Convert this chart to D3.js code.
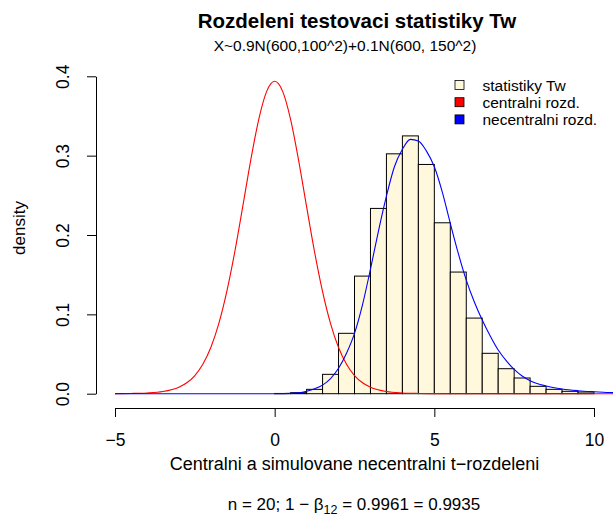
<!DOCTYPE html>
<html><head><meta charset="utf-8">
<script src="https://cdn.jsdelivr.net/npm/d3@7"></script>
<style>
body{margin:0;background:#fff}
svg{display:block}
text{font-family:"Liberation Sans",Arial,Helvetica,sans-serif;fill:#000}
</style>
</head><body>
<svg id="c" width="616" height="517"></svg>
<script>
// ---- data ----
const binEdges = [0,0.5,1,1.5,2,2.5,3,3.5,4,4.5,5,5.5,6,6.5,7,7.5,8,8.5,9,9.5,10];
const binDensity = [0.0003,0.0013,0.0055,0.0244,0.0761,0.1482,0.2335,0.3023,0.3249,0.2889,
                    0.2154,0.1533,0.0953,0.0509,0.0315,0.0198,0.0093,0.0055,0.0030,0.0021];

const centralX = [-5,-4.5,-4,-3.5,-3,-2.75,-2.5,-2.25,-2,-1.75,-1.5,-1.25,-1,-0.75,-0.5,-0.25,0,
                  0.25,0.5,0.75,1,1.25,1.5,1.75,2,2.25,2.5,2.75,3,3.5,4,4.5,5,6,8,10.75];
const centralY = [0.0001,0.0003,0.0009,0.0027,0.0082,0.0138,0.0229,0.0371,0.0583,0.0883,0.1286,0.1786,0.2357,0.2941,0.3455,0.3810,0.3937,
                  0.3810,0.3455,0.2941,0.2357,0.1786,0.1286,0.0883,0.0583,0.0371,0.0229,0.0138,0.0082,0.0027,0.0009,0.0003,0.0001,0,0,0];

const noncentralX = [-5,-2,0,0.25,0.5,0.75,1,1.25,1.5,1.75,2,2.25,2.5,2.75,3,3.25,3.5,3.75,4,4.25,4.5,4.75,
                     5,5.25,5.5,5.75,6,6.25,6.5,6.75,7,7.25,7.5,7.75,8,8.5,9,9.5,10,10.5,10.75];
const noncentralY = [0,0,0,0.0001,0.0004,0.0012,0.0032,0.0062,0.0108,0.019,0.032,0.051,0.076,0.112,0.157,0.205,0.249,0.286,0.308,0.3205,0.3185,0.306,
                     0.286,0.254,0.2146,0.1768,0.1432,0.1159,0.0928,0.0727,0.055,0.0416,0.0307,0.0223,0.0164,0.0097,0.0059,0.0038,0.0025,0.0015,0.0012];

const xTicks = [-5,0,5,10];
const yTicks = [0,0.1,0.2,0.3,0.4];
const legendLabels = ["statistiky Tw","centralni rozd.","necentralni rozd."];
const legendColors = ["#FFF8DC","#FF0000","#0000FF"];

const titleText = "Rozdeleni testovaci statistiky Tw";
const subtitleText = "X~0.9N(600,100^2)+0.1N(600, 150^2)";
const xLabel = "Centralni a simulovane necentralni t\u2212rozdeleni";
const yLabel = "density";

// ---- drawing ----
const svg = d3.select("#c");
const x = d3.scaleLinear().domain([-5,10]).range([115,594]);
const y = d3.scaleLinear().domain([0,0.4]).range([393.7,76.3]);

svg.append("defs").append("clipPath").attr("id","plotclip")
  .append("rect").attr("x",96).attr("y",0).attr("width",517).attr("height",408);

// histogram
const bins = binDensity.map((d,i)=>({x0:binEdges[i],x1:binEdges[i+1],d}));
svg.append("g").selectAll("rect").data(bins).join("rect")
  .attr("x",b=>x(b.x0)).attr("width",b=>x(b.x1)-x(b.x0))
  .attr("y",b=>y(b.d)).attr("height",b=>y(0)-y(b.d))
  .attr("fill","#FFF8DC").attr("stroke","#000").attr("stroke-width",1);

const line = d3.line().x(d=>x(d[0])).y(d=>y(d[1])).curve(d3.curveMonotoneX);
const g = svg.append("g").attr("clip-path","url(#plotclip)");
g.append("path").attr("d",line(centralX.map((v,i)=>[v,centralY[i]])))
  .attr("fill","none").attr("stroke","#FF0000").attr("stroke-width",1.1);
g.append("path").attr("d",line(noncentralX.map((v,i)=>[v,noncentralY[i]])))
  .attr("fill","none").attr("stroke","#0000FF").attr("stroke-width",1.1);

// x axis
const xa = svg.append("g").attr("transform","translate(0,408)")
  .call(d3.axisBottom(x).tickValues(xTicks).tickSize(9).tickSizeOuter(0)
    .tickFormat(d=>d<0?"\u2212"+Math.abs(d):String(d)));
xa.attr("font-family",null).attr("font-size",null);
xa.selectAll("path,line").attr("stroke","#000");
xa.selectAll("text").attr("y",38).attr("dy",null).style("font-size","17.5px");

// y axis
const ya = svg.append("g").attr("transform","translate(96,0)")
  .call(d3.axisLeft(y).tickValues(yTicks).tickSize(9).tickSizeOuter(0).tickFormat(d3.format(".1f")));
ya.attr("font-family",null).attr("font-size",null);
ya.selectAll("path,line").attr("stroke","#000");
ya.selectAll("text").attr("x",null).attr("dy",null)
  .attr("transform","translate(-27,0) rotate(-90)").attr("text-anchor","middle")
  .style("font-size","17.5px");

// titles
svg.append("text").attr("x",357).attr("y",28).attr("text-anchor","middle")
  .style("font-size","20.5px").style("font-weight","bold").text(titleText);
svg.append("text").attr("x",345).attr("y",51).attr("text-anchor","middle")
  .style("font-size","15.5px").text(subtitleText);
svg.append("text").attr("x",354.5).attr("y",470).attr("text-anchor","middle")
  .style("font-size","18px").text(xLabel);
svg.append("text").attr("transform","translate(25,228) rotate(-90)").attr("text-anchor","middle")
  .style("font-size","17px").text(yLabel);

// bottom formula
const ft = svg.append("text").attr("x",354).attr("y",510).attr("text-anchor","middle").style("font-size","17px");
ft.append("tspan").text("n = 20; 1 \u2212 \u03B2");
ft.append("tspan").attr("dy",4).style("font-size","12.5px").text("12");
ft.append("tspan").attr("dy",-4).text(" = 0.9961 = 0.9935");

// legend
const lg = svg.append("g").selectAll("g").data(legendLabels).join("g")
  .attr("transform",(d,i)=>`translate(455,${85+i*17.2})`);
lg.append("rect").attr("x",0).attr("y",-4.5).attr("width",9).attr("height",9)
  .attr("fill",(d,i)=>legendColors[i]).attr("stroke","#000").attr("stroke-width",0.8);
lg.append("text").attr("x",27.5).attr("y",5.5).style("font-size","15.5px").text(d=>d);
</script>
</body></html>
